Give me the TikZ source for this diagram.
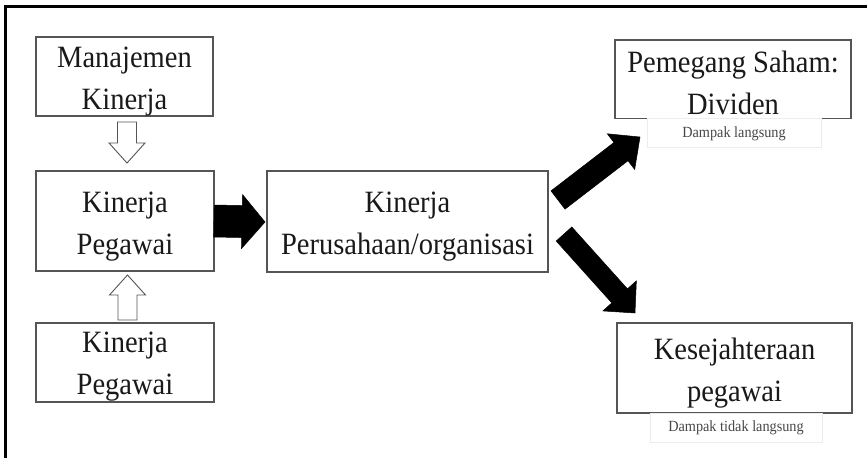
\documentclass[tikz,border=0pt]{standalone}
\usepackage{fontspec}
\setmainfont{Liberation Serif}
\newfontfamily\condfont{Liberation Serif}[FakeStretch=0.92]
\usetikzlibrary{calc}
\definecolor{boxline}{RGB}{85,85,85}
\definecolor{faintline}{RGB}{236,236,236}
\definecolor{txtcol}{RGB}{25,25,25}
\newcommand\blockarr[6]{% style, start, end, half shaft, half head, head length (pt)
  \coordinate (hb) at ($(#3)!#6pt!(#2)$);
  \draw[#1] ($(#2)!#4pt!90:(#3)$) -- ($(hb)!#4pt!90:(#3)$) -- ($(hb)!#5pt!90:(#3)$) -- (#3)
    -- ($(hb)!#5pt!-90:(#3)$) -- ($(hb)!#4pt!-90:(#3)$) -- ($(#2)!#4pt!-90:(#3)$) -- cycle;
}
\tikzset{
  box/.style={draw=boxline, line width=1.3pt, rectangle, inner sep=0pt, outer sep=0pt},
  faintbox/.style={draw=faintline, line width=0.8pt, rectangle, inner sep=0pt, outer sep=0pt},
  bigtxt/.style={font=\condfont\fontsize{31}{42}\selectfont, align=center, inner sep=0pt, text=txtcol, anchor=north},
  smalltxt/.style={font=\condfont\fontsize{15.5}{16}\selectfont, inner sep=0pt, text=txtcol!80, anchor=base},
  hollowarr/.style={draw=boxline, line width=0.9pt, fill=white, line join=miter},
  solidarr/.style={fill=black, draw=black, line width=0.5pt, line join=miter},
}
\begin{document}
\begin{tikzpicture}[x=1pt, y=-1pt]
\useasboundingbox[fill=white] (0,0) rectangle (867,458);
% frame
\draw[line width=3pt, black] (5.5,458) -- (5.5,6.5) -- (867,6.5);

% boxes
\node[box, minimum width=177pt, minimum height=79pt] (mk) at (124.5,76.5) {};
\node[box, minimum width=178pt, minimum height=100pt] (kp) at (125,221) {};
\node[box, minimum width=178pt, minimum height=79pt] (kp2) at (125,362.5) {};
\node[box, minimum width=281pt, minimum height=101pt] (kpo) at (407.5,221.5) {};
\node[box, minimum width=236pt, minimum height=78.5pt] (ps) at (733,79.25) {};
\node[box, minimum width=235pt, minimum height=90pt] (ks) at (734.5,368) {};
\node[faintbox, minimum width=174pt, minimum height=28.5pt] (dl) at (734,132.75) {};
\node[faintbox, minimum width=172pt, minimum height=29pt] (dtl) at (736,427.5) {};

% texts
\node[bigtxt] (mkt) at (124.5,46.8) {Manajemen\\Kinerja};
\node[bigtxt] (kpt) at (125,191.8) {Kinerja\\Pegawai};
\node[bigtxt] (kp2t) at (125,331.8) {Kinerja\\Pegawai};
\node[bigtxt] (kpot) at (407.5,191.8) {Kinerja\\Perusahaan/organisasi};
\node[bigtxt] (pst) at (733,50.3) {Pemegang Saham:\\Dividen};
\node[bigtxt] (kst) at (734.5,337.8) {Kesejahteraan\\pegawai};
\node[smalltxt] (dlt) at (734,137) {Dampak langsung};
\node[smalltxt] (dtlt) at (736,431) {Dampak tidak langsung};

% hollow arrows
\coordinate (h1s) at ($(mk.south)+(2.5,6)$);
\coordinate (h1e) at ($(kp.north)+(2,-8)$);
\blockarr{hollowarr}{h1s}{h1e}{9.5}{18}{20}
\coordinate (h2s) at ($(kp2.north)+(2.5,-3)$);
\coordinate (h2e) at ($(kp.south)+(2.5,4)$);
\blockarr{hollowarr}{h2s}{h2e}{9.5}{18}{20}

% solid arrows
\coordinate (s1s) at ($(kp.east)+(0,0)$);
\coordinate (s1e) at ($(kpo.west)+(-2,0.5)$);
\blockarr{solidarr}{s1s}{s1e}{16}{27}{23}
\coordinate (s2s) at ($(kpo.east)+(10,-21.5)$);
\coordinate (s2e) at (640,137);
\blockarr{solidarr}{s2s}{s2e}{11.5}{22.5}{24}
\coordinate (s3s) at ($(kpo.east)+(16,12.5)$);
\coordinate (s3e) at (635,313);
\blockarr{solidarr}{s3s}{s3e}{10.5}{22.5}{23}
\end{tikzpicture}
\end{document}
